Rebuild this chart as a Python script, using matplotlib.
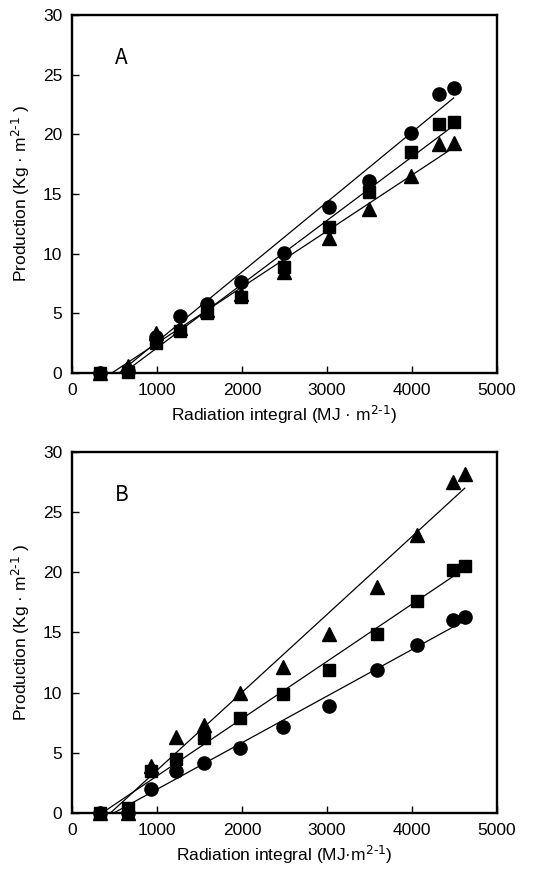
import numpy as np
import matplotlib
matplotlib.use("Agg")
import matplotlib.pyplot as plt

plt.rcParams['font.family'] = ['Liberation Sans', 'DejaVu Sans']
plt.rcParams['mathtext.default'] = 'regular'

# panel A
xa = [330, 660, 990, 1275, 1590, 1990, 2500, 3018, 3500, 3990, 4313, 4490]
a_circle = [0, 0.2, 3.0, 4.8, 5.8, 7.6, 10.1, 13.95, 16.1, 20.1, 23.4, 23.85]
a_square = [0, 0.1, 2.5, 3.5, 5.0, 6.4, 8.9, 12.2, 15.2, 18.5, 20.9, 21.0]
a_triangle = [0, 0.6, 3.4, 3.8, 5.3, 6.6, 8.5, 11.3, 13.75, 16.5, 19.2, 19.3]

# panel B
xb = [330, 663, 926, 1224, 1554, 1978, 2488, 3018, 3587, 4058, 4480, 4620]
b_circle = [0, 0, 2.0, 3.45, 4.15, 5.4, 7.15, 8.9, 11.85, 13.95, 16.0, 16.25]
b_square = [0, 0.4, 3.5, 4.5, 6.25, 7.85, 9.85, 11.9, 14.85, 17.65, 20.2, 20.5]
b_triangle = [0, 0, 3.9, 6.35, 7.3, 10.0, 12.1, 14.9, 18.8, 23.1, 27.5, 28.2]

xticks = [0, 1000, 2000, 3000, 4000, 5000]
yticks = [0, 5, 10, 15, 20, 25, 30]

fig = plt.figure(figsize=(5.47, 8.76), dpi=100)
ax1 = fig.add_axes([0.1316, 0.574, 0.777, 0.409])
ax2 = fig.add_axes([0.1316, 0.072, 0.777, 0.412])


def trend(ax, x, y):
    # linear trendline over the data range, like excel
    k, b = np.polyfit(x, y, 1)
    xs = np.array([min(x), max(x)])
    ax.plot(xs, k * xs + b, color='black', lw=0.9, zorder=2)


def panel(ax, x, circ, sq, tri, letter, xlabel):
    for ys in (circ, tri, sq):
        trend(ax, x, ys)
    ax.plot(x, circ, 'o', color='black', ms=9.5, ls='none', clip_on=False, zorder=3)
    ax.plot(x, tri, '^', color='black', ms=10, ls='none', clip_on=False, zorder=3)
    ax.plot(x, sq, 's', color='black', ms=9, ls='none', clip_on=False, zorder=4)
    ax.set_xlim(0, 5000)
    ax.set_ylim(0, 30)
    ax.set_xticks(xticks)
    ax.set_yticks(yticks)
    ax.tick_params(direction='in', length=5, width=1, labelsize=12.5, pad=7)
    for s in ax.spines.values():
        s.set_linewidth(1.7)
    ax.set_xlabel(xlabel, fontsize=12.5, labelpad=4)
    ax.set_ylabel(r'Production (Kg · m$^{\text{2-1}}$ )', fontsize=12.5, labelpad=8)
    ax.text(0.10, 0.88, letter, transform=ax.transAxes, fontsize=15,
            family=['Noto Sans CJK KR', 'DejaVu Sans'], va='center', ha='left')


panel(ax1, xa, a_circle, a_square, a_triangle, 'A', r'Radiation integral (MJ · m$^{\text{2-1}}$)')
panel(ax2, xb, b_circle, b_square, b_triangle, 'B', r'Radiation integral (MJ·m$^{\text{2-1}}$)')

fig.savefig('out.png', dpi=100)
